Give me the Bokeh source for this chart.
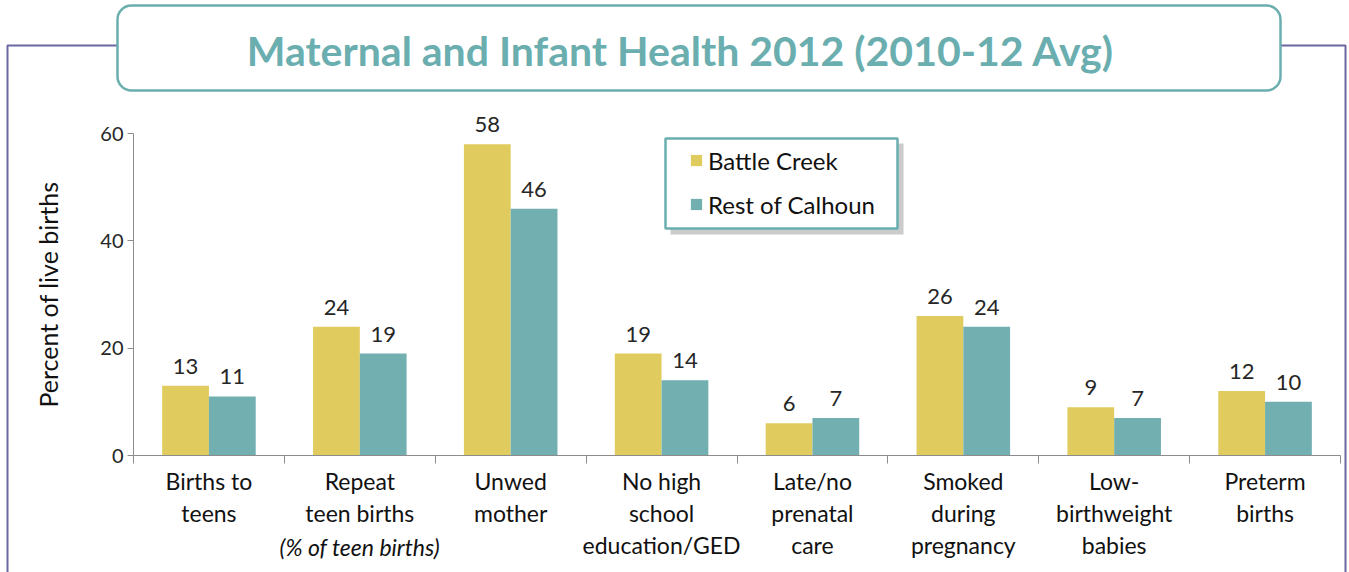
from bokeh.plotting import figure
from bokeh.models import (ColumnDataSource, Range1d, LinearAxis,
                          FixedTicker, BoxAnnotation, Label)
from bokeh.transform import dodge
from bokeh.core.properties import value
from bokeh.embed import file_html
from bokeh.resources import INLINE

categories = ["Births to\nteens", "Repeat\nteen births", "Unwed\nmother",
              "No high\nschool\neducation/GED", "Late/no\nprenatal\ncare",
              "Smoked\nduring\npregnancy", "Low-\nbirthweight\nbabies", "Preterm\nbirths"]
battle_creek = [13, 24, 58, 19, 6, 26, 9, 12]
rest_of_calhoun = [11, 19, 46, 14, 7, 24, 7, 10]
y_ticks = [0, 20, 40, 60]
y_max = 60
title_text = "Maternal and Infant Health 2012 (2010-12 Avg)"
note_text = "(% of teen births)"
note_category = "Repeat\nteen births"

YELLOW = "#E0CB5E"
TEAL = "#72AFB1"
TITLE_TEAL = "#6AAEAF"
PURPLE = "#6B67A3"
AXIS_GRAY = "#8C8C8C"
FONT = "Lato"

# canvas geometry (pixels)
W, H = 1349, 572
AX_L, AX_R = 133, 1340      # x extent of the category area
AX_TOP, AX_BOT = 133, 455   # pixel rows of y=y_max and y=0

n = len(categories)
centers = [i + 0.5 for i in range(n)]
src = ColumnDataSource(dict(
    x=centers, bc=battle_creek, rc=rest_of_calhoun,
    bc_txt=[str(v) for v in battle_creek], rc_txt=[str(v) for v in rest_of_calhoun]))

px_x = (AX_R - AX_L) / n
px_y = (AX_BOT - AX_TOP) / y_max
x_range = Range1d(-AX_L / px_x, n + (W - AX_R) / px_x)
y_range = Range1d(-(H - AX_BOT) / px_y, y_max + AX_TOP / px_y)

p = figure(x_range=x_range, y_range=y_range, frame_width=W, frame_height=H,
           output_backend="svg", toolbar_location=None,
           min_border=0, min_border_left=0, min_border_right=0,
           min_border_top=0, min_border_bottom=0,
           x_axis_location=None, y_axis_location=None)
p.outline_line_color = None
p.xgrid.visible = False
p.ygrid.visible = False
p.background_fill_color = "white"
p.border_fill_color = "white"


def canvas_box(l, r, t, b, **kw):
    return BoxAnnotation(left=l, right=r, top=t, bottom=b,
                         left_units="canvas", right_units="canvas",
                         top_units="canvas", bottom_units="canvas", **kw)


# purple frame and title box
p.add_layout(canvas_box(7, 1345, 45, H + 50, fill_alpha=0, line_color=PURPLE,
                        line_alpha=1, line_width=2))
p.add_layout(canvas_box(117, 1280, 5, 90, fill_color="white", fill_alpha=1,
                        line_color=TITLE_TEAL, line_alpha=1, line_width=2.5, border_radius=14))
p.add_layout(Label(x=680, y=50, x_units="canvas", y_units="canvas", text=title_text,
                   text_align="center", text_baseline="middle", text_font=FONT,
                   text_font_style="bold", text_font_size="41px", text_color=TITLE_TEAL))

# y axis
yax = LinearAxis(ticker=FixedTicker(ticks=y_ticks), bounds=(0, y_max), fixed_location=0)
yax.major_tick_out = 6
yax.major_tick_in = 0
yax.major_label_standoff = 4
yax.minor_tick_line_color = None
yax.axis_line_color = AXIS_GRAY
yax.major_tick_line_color = AXIS_GRAY
yax.major_label_text_font = FONT
yax.major_label_text_font_size = "20px"
yax.major_label_text_color = "#262626"
yax.axis_label = "Percent of live births"
yax.axis_label_text_font = FONT
yax.axis_label_text_font_style = "normal"
yax.axis_label_text_font_size = "25px"
yax.axis_label_text_color = "#111111"
yax.axis_label_standoff = 34
p.add_layout(yax, "left")

# boundary ticks axis
bounds_ticks = list(range(n + 1))
bax = LinearAxis(ticker=FixedTicker(ticks=bounds_ticks), bounds=(0, n), fixed_location=0)
bax.major_label_overrides = {t: "" for t in bounds_ticks}
bax.major_label_text_font_size = "1px"
bax.major_tick_out = 8
bax.major_tick_in = 0
bax.minor_tick_line_color = None
bax.axis_line_color = AXIS_GRAY
bax.major_tick_line_color = AXIS_GRAY
p.add_layout(bax, "below")

# category label axis
cax = LinearAxis(ticker=FixedTicker(ticks=centers), fixed_location=0)
cax.major_label_overrides = {c: lab for c, lab in zip(centers, categories)}
cax.axis_line_color = None
cax.major_tick_line_color = None
cax.minor_tick_line_color = None
cax.major_tick_out = 0
cax.major_tick_in = 0
cax.major_label_standoff = 11
cax.major_label_text_font = FONT
cax.major_label_text_font_size = "23px"
cax.major_label_text_color = "#111111"
cax.major_label_text_line_height = 1.16
p.add_layout(cax, "below")

# legend box with shadow
p.add_layout(canvas_box(670, 903, 143, 234, fill_color="#A8A8A8", fill_alpha=0.6, line_color=None))
p.add_layout(canvas_box(665, 897, 138, 228, fill_color="white", fill_alpha=1,
                        line_color=TITLE_TEAL, line_alpha=1, line_width=2.5))

p.vbar(x=dodge("x", -0.155), top="bc", width=0.31, source=src,
       fill_color=YELLOW, line_color=None, legend_label="Battle Creek")
p.vbar(x=dodge("x", 0.155), top="rc", width=0.31, source=src,
       fill_color=TEAL, line_color=None, legend_label="Rest of Calhoun")

p.text(x=dodge("x", -0.155), y="bc", text="bc_txt", source=src,
       text_align="center", text_baseline="bottom", y_offset=-12,
       text_font=value(FONT), text_font_size="22px", text_color="#262626")
p.text(x=dodge("x", 0.155), y="rc", text="rc_txt", source=src,
       text_align="center", text_baseline="bottom", y_offset=-12,
       text_font=value(FONT), text_font_size="22px", text_color="#262626")

# italic note under "Repeat teen births"
p.text(x=[centers[categories.index(note_category)]], y=[0], text=[note_text],
       text_align="center", text_baseline="middle", y_offset=91,
       text_font=value(FONT), text_font_style="italic", text_font_size="23px",
       text_color="#111111")

leg = p.legend[0]
leg.location = (689, H - 218.5)
leg.label_text_font = FONT
leg.label_text_font_size = "24px"
leg.label_text_color = "#111111"
leg.glyph_width = 14
leg.glyph_height = 14
leg.label_standoff = 5
leg.label_height = 29
leg.spacing = 15
leg.padding = 0
leg.margin = 0
leg.border_line_color = None
leg.background_fill_alpha = 0

open("out.html", "w").write(file_html(p, INLINE))
